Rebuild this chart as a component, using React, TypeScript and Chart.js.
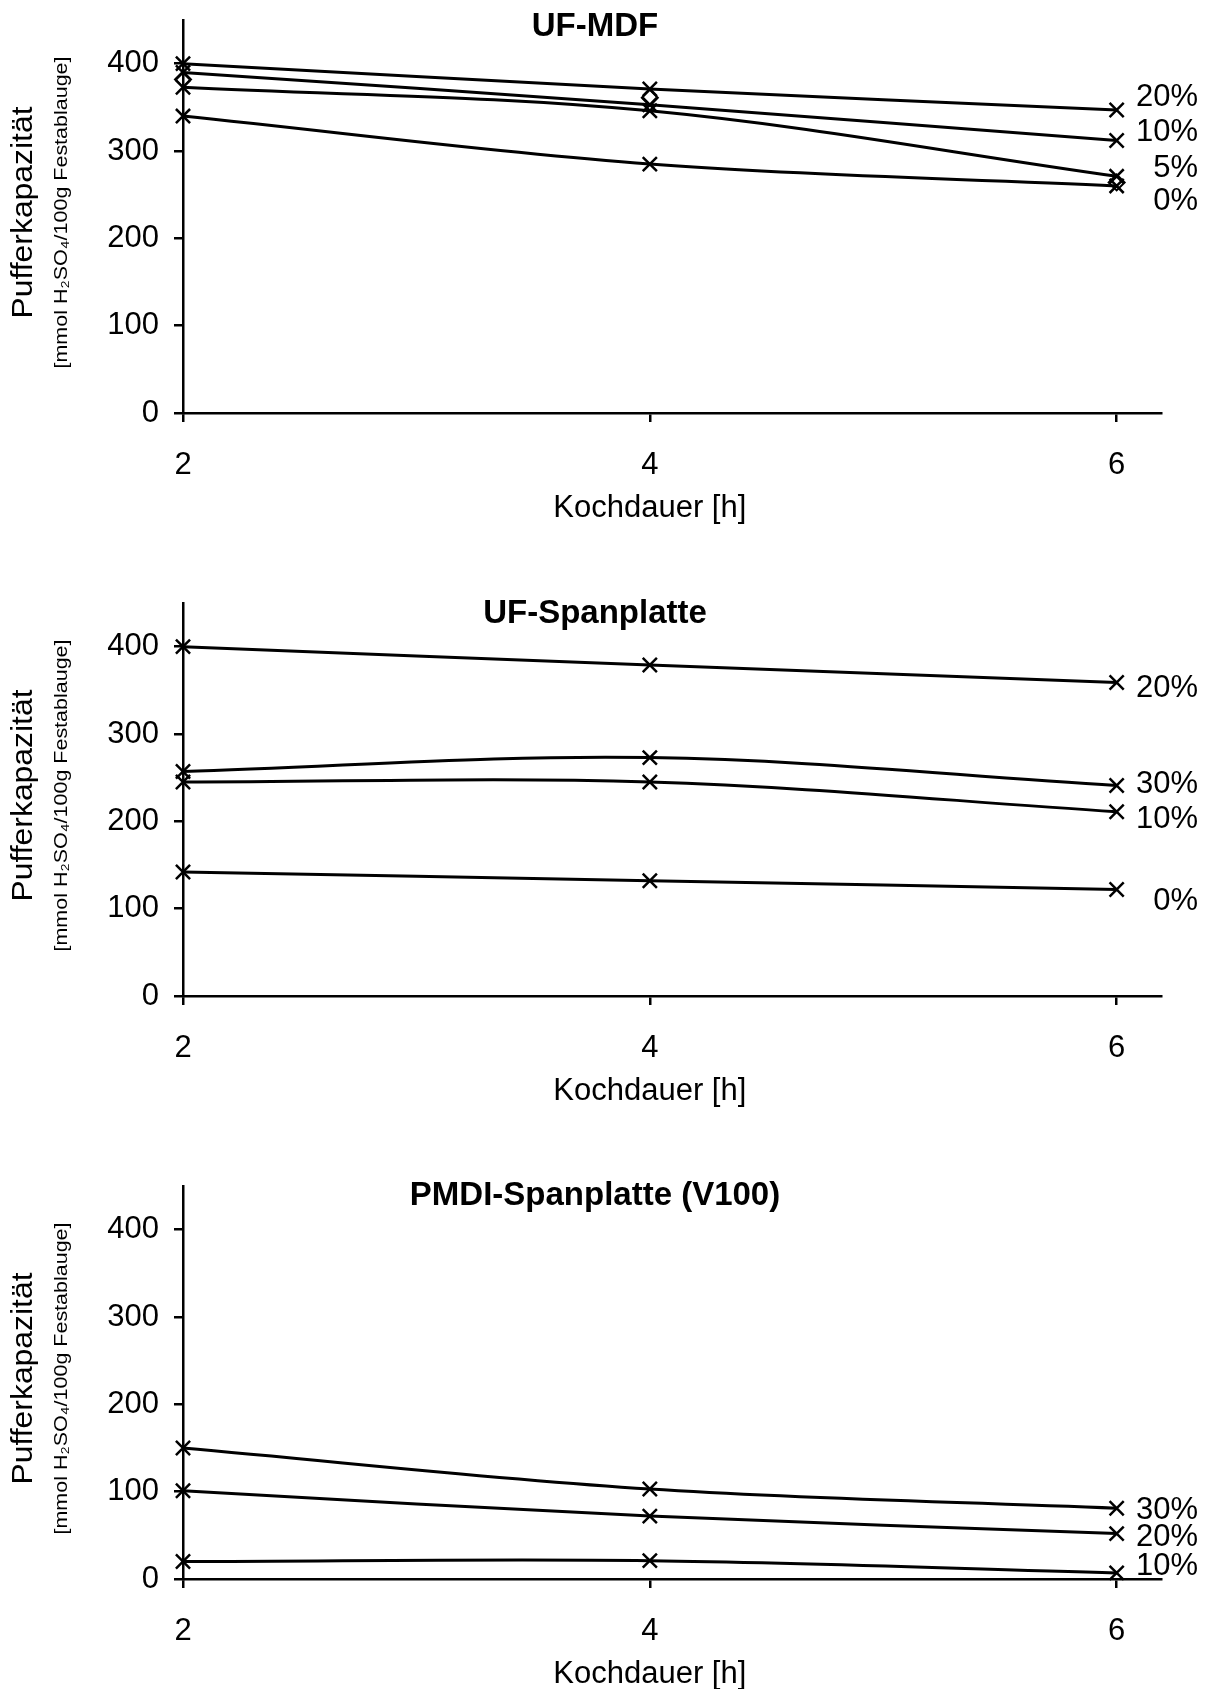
import { useEffect, useRef } from 'react';
import { Chart, registerables } from 'chart.js';

Chart.register(...registerables);

// ---------- shared axis data ----------
const hours = [2, 4, 6];
const xTickValues = [2, 4, 6];
const yTickValues = [0, 100, 200, 300, 400];
const xMin = 2;
const xMax = 6.19;
const yMin = 0;
const yMax = 450;
const xAxisTitle = 'Kochdauer [h]';
const yAxisTitle = 'Pufferkapazität';
const yAxisUnit = '[mmol H₂SO₄/100g Festablauge]';

// ---------- UF-MDF ----------
const mdfTitle = 'UF-MDF';
const mdfSeriesLabels = ['20%', '10%', '5%', '0%'];
const mdf20 = [400, 371, 347];
const mdf10 = [390, 353, 312];
const mdf5 = [373, 346, 271];
const mdf0 = [340, 285, 260];
const mdfDiamond = [382, 361, 264];
const mdfLabelValues = [364, 323, 282, 244];

// ---------- UF-Spanplatte ----------
const spanTitle = 'UF-Spanplatte';
const spanSeriesLabels = ['20%', '30%', '10%', '0%'];
const span20 = [400, 379, 359];
const span30 = [257, 273, 241];
const span10 = [245, 245, 211];
const span0 = [142, 132, 122];
const spanLabelValues = [354, 245, 205, 110];

// ---------- PMDI-Spanplatte (V100) ----------
const pmdiTitle = 'PMDI-Spanplatte (V100)';
const pmdiSeriesLabels = ['30%', '20%', '10%'];
const pmdi30 = [150, 103, 81];
const pmdi20 = [101, 72, 52];
const pmdi10 = [20, 21, 7];
const pmdiLabelValues = [81, 50, 17];

const FONT = '"Liberation Sans", Arial, Helvetica, sans-serif';
const CANVAS_W = 1212;
const CANVAS_H = 583;
const AREA_TOP = 20;
const AREA_BOTTOM = 413;

type Spec = {
  title: string;
  titleY: number;
  series: number[][];
  seriesLabels: string[];
  labelValues: number[];
  diamonds?: number[];
};

const specs: Spec[] = [
  {
    title: mdfTitle,
    titleY: 27,
    series: [mdf20, mdf10, mdf5, mdf0],
    seriesLabels: mdfSeriesLabels,
    labelValues: mdfLabelValues,
    diamonds: mdfDiamond,
  },
  {
    title: spanTitle,
    titleY: 31,
    series: [span20, span30, span10, span0],
    seriesLabels: spanSeriesLabels,
    labelValues: spanLabelValues,
  },
  {
    title: pmdiTitle,
    titleY: 30,
    series: [pmdi30, pmdi20, pmdi10],
    seriesLabels: pmdiSeriesLabels,
    labelValues: pmdiLabelValues,
  },
];

function drawStretchedVertical(
  ctx: CanvasRenderingContext2D,
  text: string,
  font: string,
  cx: number,
  cy: number,
  length: number
) {
  ctx.save();
  ctx.font = font;
  const w = ctx.measureText(text).width;
  ctx.translate(cx, cy);
  ctx.rotate(-Math.PI / 2);
  ctx.scale(length / w, 1);
  ctx.textAlign = 'center';
  ctx.textBaseline = 'middle';
  ctx.fillStyle = '#000';
  ctx.fillText(text, 0, 0);
  ctx.restore();
}

function buildConfig(spec: Spec): any {
  const datasets: any[] = spec.series.map((vals, i) => ({
    label: spec.seriesLabels[i],
    data: hours.map((h, j) => ({ x: h, y: vals[j] })),
    borderColor: '#000',
    borderWidth: 3,
    tension: 0.35,
    fill: false,
    clip: false,
    pointStyle: 'crossRot',
    pointRadius: 10,
    pointBorderWidth: 2.5,
    pointBorderColor: '#000',
    pointBackgroundColor: 'transparent',
  }));
  if (spec.diamonds) {
    datasets.push({
      label: '',
      data: hours.map((h, j) => ({ x: h, y: spec.diamonds![j] })),
      showLine: false,
      clip: false,
      pointStyle: 'rectRot',
      pointRadius: 8,
      pointBorderWidth: 2,
      pointBorderColor: '#000',
      pointBackgroundColor: 'transparent',
    });
  }

  const annotate = {
    id: 'annotate',
    afterDatasetsDraw(chart: any) {
      const { ctx, chartArea, scales } = chart;
      const xs = scales.x;
      const ys = scales.y;
      ctx.save();
      ctx.fillStyle = '#000';
      // title
      ctx.font = `bold 33px ${FONT}`;
      ctx.textAlign = 'center';
      ctx.textBaseline = 'middle';
      ctx.fillText(spec.title, 595, spec.titleY);
      // end labels
      ctx.font = `31px ${FONT}`;
      ctx.textAlign = 'right';
      ctx.textBaseline = 'middle';
      spec.seriesLabels.forEach((lab, i) => {
        ctx.fillText(lab, 1198, ys.getPixelForValue(spec.labelValues[i]) + 2);
      });
      // x title
      ctx.textAlign = 'center';
      ctx.fillText(xAxisTitle, xs.getPixelForValue(4), chartArea.bottom + 95);
      ctx.restore();
      const midY = (chartArea.top + chartArea.bottom) / 2 - 4;
      drawStretchedVertical(ctx, yAxisTitle, `29px ${FONT}`, 24, midY, 212);
      drawStretchedVertical(ctx, yAxisUnit, `18px ${FONT}`, 62, midY, 312);
    },
  };

  return {
    type: 'line',
    data: { datasets },
    plugins: [annotate],
    options: {
      responsive: false,
      animation: false,
      events: [],
      layout: { padding: { left: 0, right: 51, top: AREA_TOP, bottom: 0 } },
      plugins: {
        legend: { display: false },
        title: { display: false },
        tooltip: { enabled: false },
      },
      scales: {
        x: {
          type: 'linear',
          min: xMin,
          max: xMax,
          afterBuildTicks: (s: any) => {
            s.ticks = xTickValues.map((v) => ({ value: v }));
          },
          afterFit: (s: any) => {
            s.height = CANVAS_H - AREA_BOTTOM;
            s.paddingLeft = 0;
            s.paddingRight = 0;
          },
          ticks: {
            color: '#000',
            font: { family: FONT, size: 31 },
            padding: 25,
            maxRotation: 0,
            autoSkip: false,
            callback: (v: any) => String(v),
          },
          grid: {
            display: true,
            drawOnChartArea: false,
            drawTicks: true,
            tickLength: 9,
            color: '#000',
            lineWidth: 2.5,
          },
          border: { display: true, color: '#000', width: 2.5 },
        },
        y: {
          type: 'linear',
          min: yMin,
          max: yMax,
          afterBuildTicks: (s: any) => {
            s.ticks = yTickValues.map((v) => ({ value: v }));
          },
          afterFit: (s: any) => {
            s.width = 183;
            s.paddingTop = 0;
            s.paddingBottom = 0;
          },
          ticks: {
            color: '#000',
            font: { family: FONT, size: 31 },
            padding: 15,
            callback: (v: any) => String(v),
          },
          grid: {
            display: true,
            drawOnChartArea: false,
            drawTicks: true,
            tickLength: 9,
            color: '#000',
            lineWidth: 2.5,
          },
          border: { display: true, color: '#000', width: 2.5 },
        },
      },
    },
  };
}

function PanelChart({ spec }: { spec: Spec }) {
  const ref = useRef<HTMLCanvasElement | null>(null);
  useEffect(() => {
    if (!ref.current) return;
    const chart = new Chart(ref.current, buildConfig(spec));
    return () => chart.destroy();
  }, [spec]);
  return (
    <canvas
      ref={ref}
      width={CANVAS_W}
      height={CANVAS_H}
      style={{ display: 'block', width: CANVAS_W, height: CANVAS_H }}
    />
  );
}

export default function App() {
  return (
    <div
      style={{
        position: 'absolute',
        left: 0,
        top: 0,
        width: 1212,
        height: 1689,
        background: '#fff',
      }}
    >
      {specs.map((s, i) => (
        <div key={i} style={{ position: 'absolute', left: 0, top: i * CANVAS_H }}>
          <PanelChart spec={s} />
        </div>
      ))}
    </div>
  );
}
